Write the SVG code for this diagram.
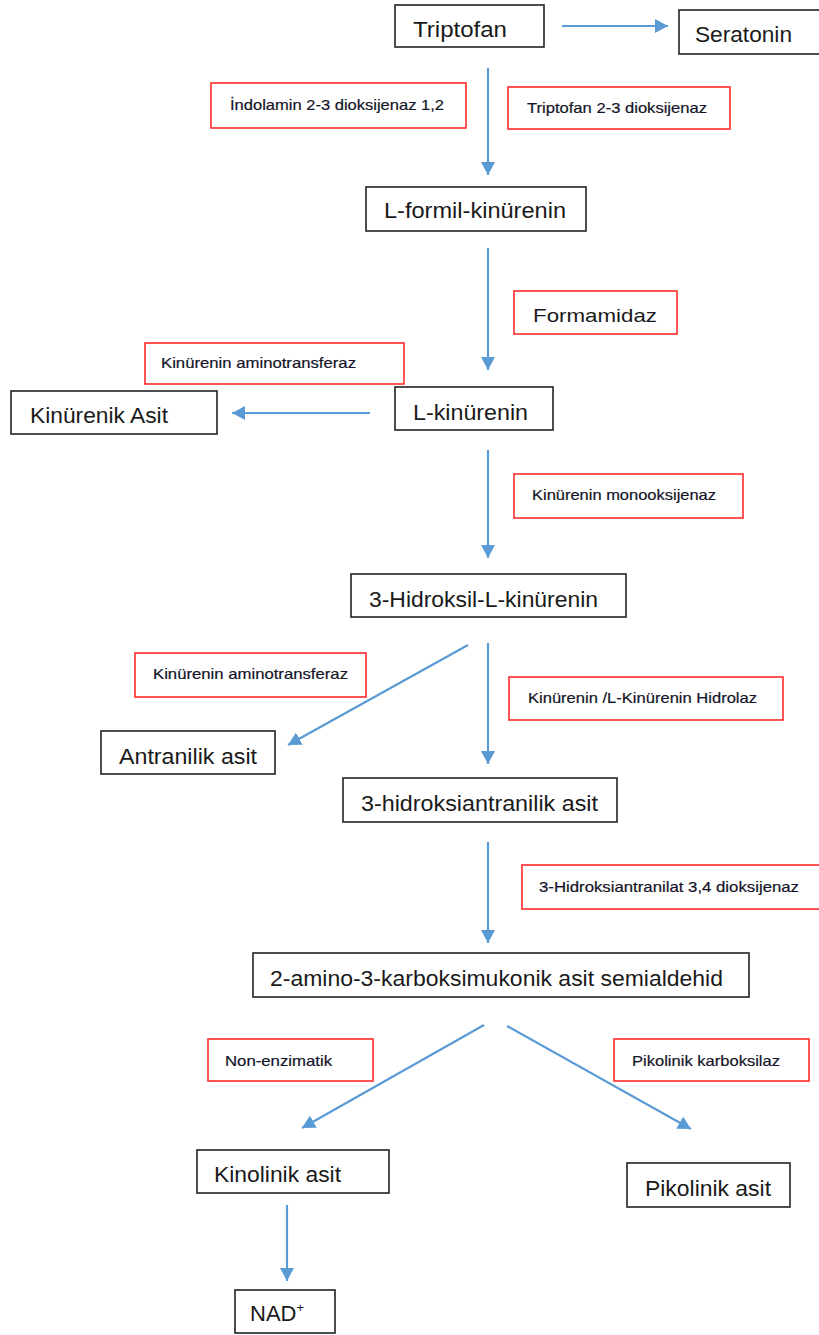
<svg xmlns="http://www.w3.org/2000/svg" width="819" height="1335" viewBox="0 0 819 1335">
<style>
.node{fill:#fff;stroke:#222;stroke-width:1.6}
.enz{fill:#fff;stroke:#ff2b2b;stroke-width:1.6}
.big{font-family:"Liberation Sans",Arial,sans-serif;font-size:22px;fill:#1a1a1a}
.med{font-family:"Liberation Sans",Arial,sans-serif;font-size:19px;fill:#1a1a1a}
.sm{font-family:"Liberation Sans",Arial,sans-serif;font-size:14.5px;fill:#141428;stroke:#141428;stroke-width:0.2}
.arr{stroke:#5b9bd5;stroke-width:2.2;fill:none;marker-end:url(#ah)}
</style>
<defs>
<marker id="ah" markerUnits="userSpaceOnUse" markerWidth="15" markerHeight="15" refX="13" refY="7.5" orient="auto">
<path d="M0,0.5 L13,7.5 L0,14.5 Z" fill="#5b9bd5"/>
</marker>
</defs>
<rect width="819" height="1335" fill="#fff"/>
<g id="connectors">
<line class="arr" x1="562" y1="26" x2="668" y2="26"/>
<line class="arr" x1="488" y1="68" x2="488" y2="175"/>
<line class="arr" x1="488" y1="248" x2="488" y2="370"/>
<line class="arr" x1="370" y1="413" x2="232" y2="413"/>
<line class="arr" x1="488" y1="450" x2="488" y2="558"/>
<line class="arr" x1="468" y1="645" x2="288" y2="745"/>
<line class="arr" x1="488" y1="643" x2="488" y2="764"/>
<line class="arr" x1="488" y1="842" x2="488" y2="943"/>
<line class="arr" x1="484" y1="1025" x2="302" y2="1128"/>
<line class="arr" x1="507" y1="1026" x2="691" y2="1129"/>
<line class="arr" x1="287" y1="1205" x2="287" y2="1281"/>
</g>
<g id="triptofan"><rect class="node" x="395" y="5" width="149" height="42"/><text class="big" x="413" y="37" textLength="94" lengthAdjust="spacingAndGlyphs">Triptofan</text></g>
<g id="seratonin"><rect class="node" x="679" y="10" width="142" height="44"/><text class="big" x="695" y="42" textLength="97" lengthAdjust="spacingAndGlyphs">Seratonin</text></g>
<g id="enz-ido"><rect class="enz" x="211" y="83" width="255" height="45"/><text class="sm" x="230" y="110" textLength="214" lengthAdjust="spacingAndGlyphs">İndolamin 2-3 dioksijenaz 1,2</text></g>
<g id="enz-tdo"><rect class="enz" x="508" y="87" width="222" height="42"/><text class="sm" x="527" y="113" textLength="180" lengthAdjust="spacingAndGlyphs">Triptofan 2-3 dioksijenaz</text></g>
<g id="lformil"><rect class="node" x="366" y="187" width="220" height="44"/><text class="big" x="384" y="218" textLength="182" lengthAdjust="spacingAndGlyphs">L-formil-kinürenin</text></g>
<g id="enz-formamidaz"><rect class="enz" x="514" y="291" width="163" height="43"/><text class="med" x="533" y="322" textLength="124" lengthAdjust="spacingAndGlyphs">Formamidaz</text></g>
<g id="enz-kat1"><rect class="enz" x="145" y="343" width="259" height="41"/><text class="sm" x="161" y="368" textLength="195" lengthAdjust="spacingAndGlyphs">Kinürenin aminotransferaz</text></g>
<g id="kinurenik"><rect class="node" x="11" y="391" width="206" height="43"/><text class="big" x="30" y="423" textLength="138" lengthAdjust="spacingAndGlyphs">Kinürenik Asit</text></g>
<g id="lkinurenin"><rect class="node" x="395" y="387" width="158" height="43"/><text class="big" x="413" y="420" textLength="115" lengthAdjust="spacingAndGlyphs">L-kinürenin</text></g>
<g id="enz-kmo"><rect class="enz" x="514" y="474" width="229" height="44"/><text class="sm" x="532" y="500" textLength="184" lengthAdjust="spacingAndGlyphs">Kinürenin monooksijenaz</text></g>
<g id="hidroksil"><rect class="node" x="351" y="574" width="275" height="43"/><text class="big" x="369" y="607" textLength="229" lengthAdjust="spacingAndGlyphs">3-Hidroksil-L-kinürenin</text></g>
<g id="enz-kat2"><rect class="enz" x="135" y="653" width="231" height="44"/><text class="sm" x="153" y="679" textLength="195" lengthAdjust="spacingAndGlyphs">Kinürenin aminotransferaz</text></g>
<g id="enz-hidrolaz"><rect class="enz" x="509" y="677" width="274" height="43"/><text class="sm" x="528" y="703" textLength="229" lengthAdjust="spacingAndGlyphs">Kinürenin /L-Kinürenin Hidrolaz</text></g>
<g id="antranilik"><rect class="node" x="101" y="731" width="174" height="43"/><text class="big" x="119" y="764" textLength="138" lengthAdjust="spacingAndGlyphs">Antranilik asit</text></g>
<g id="hidroksiantranilik"><rect class="node" x="343" y="778" width="274" height="44"/><text class="big" x="361" y="811" textLength="237" lengthAdjust="spacingAndGlyphs">3-hidroksiantranilik asit</text></g>
<g id="enz-3had"><rect class="enz" x="522" y="865" width="299" height="44"/><text class="sm" x="539" y="892" textLength="260" lengthAdjust="spacingAndGlyphs">3-Hidroksiantranilat 3,4 dioksijenaz</text></g>
<g id="acms"><rect class="node" x="253" y="953" width="496" height="44"/><text class="big" x="270" y="986" textLength="453" lengthAdjust="spacingAndGlyphs">2-amino-3-karboksimukonik asit semialdehid</text></g>
<g id="enz-nonenz"><rect class="enz" x="208" y="1039" width="165" height="42"/><text class="sm" x="225" y="1066" textLength="107" lengthAdjust="spacingAndGlyphs">Non-enzimatik</text></g>
<g id="enz-pikolinik"><rect class="enz" x="614" y="1039" width="195" height="42"/><text class="sm" x="632" y="1066" textLength="148" lengthAdjust="spacingAndGlyphs">Pikolinik karboksilaz</text></g>
<g id="kinolinik"><rect class="node" x="197" y="1150" width="192" height="43"/><text class="big" x="214" y="1182" textLength="127" lengthAdjust="spacingAndGlyphs">Kinolinik asit</text></g>
<g id="pikolinik"><rect class="node" x="627" y="1163" width="163" height="44"/><text class="big" x="645" y="1196" textLength="126" lengthAdjust="spacingAndGlyphs">Pikolinik asit</text></g>
<g id="nad"><rect class="node" x="235" y="1290" width="100" height="43"/><text class="big" x="250" y="1321">NAD<tspan font-size="13" dy="-9">+</tspan></text></g>
</svg>
